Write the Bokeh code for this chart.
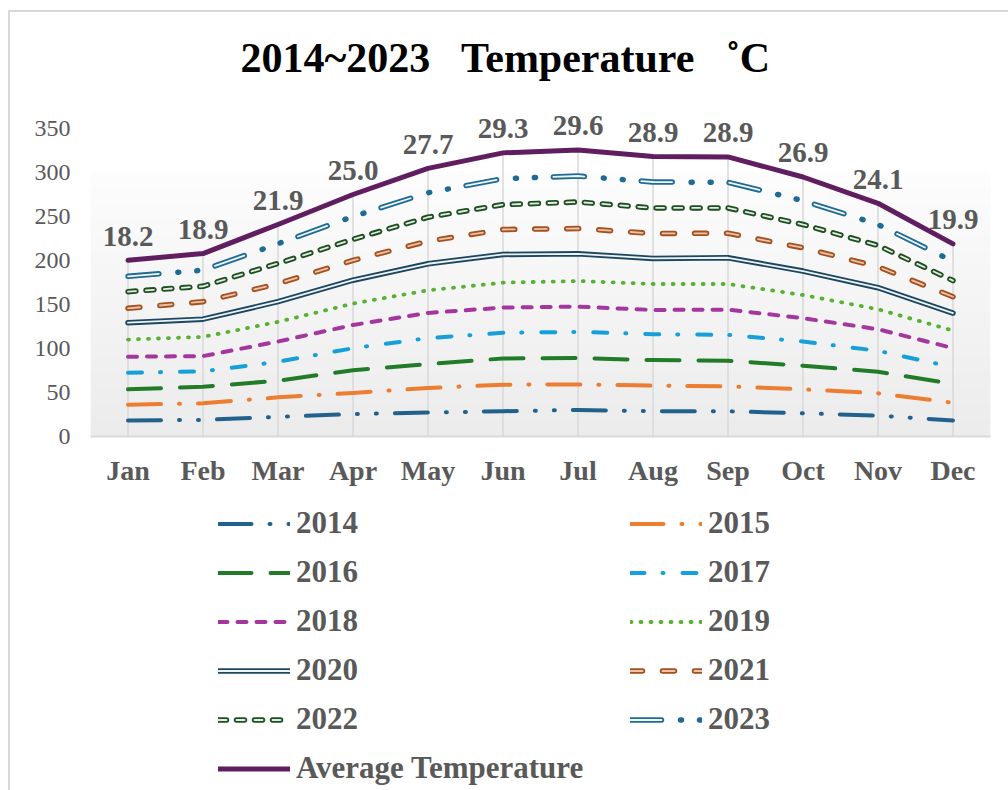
import numpy as np
from bokeh.plotting import figure
from bokeh.layouts import column
from bokeh.models import Range1d, FixedTicker, Legend, LegendItem
from bokeh.embed import file_html
from bokeh.resources import INLINE
from bokeh.core.properties import value

# ---------------- data ----------------
months = ["Jan", "Feb", "Mar", "Apr", "May", "Jun",
          "Jul", "Aug", "Sep", "Oct", "Nov", "Dec"]
y_ticks = [0, 50, 100, 150, 200, 250, 300, 350]

t2014 = [18.1, 18.9, 22.3, 25.5, 27.2, 28.7, 30.2, 28.7, 28.7, 26.4, 23.8, 18.2]
t2015 = [18.0, 18.8, 22.2, 24.0, 27.9, 30.2, 29.0, 29.1, 28.3, 27.2, 25.3, 20.1]
t2016 = [17.5, 18.9, 18.9, 25.8, 27.2, 29.8, 29.9, 29.0, 29.1, 26.8, 24.5, 21.4]
t2017 = [18.9, 17.4, 21.5, 25.0, 29.5, 29.1, 29.8, 29.5, 29.4, 27.5, 23.8, 19.0]
t2018 = [18.1, 17.4, 23.0, 26.4, 28.6, 28.7, 28.7, 27.5, 28.7, 26.5, 24.5, 21.8]
t2019 = [19.5, 21.8, 22.3, 24.3, 25.7, 28.3, 29.1, 29.5, 29.1, 26.4, 22.7, 19.8]
t2020 = [19.3, 20.1, 23.0, 26.6, 30.2, 32.1, 30.9, 29.1, 29.8, 27.2, 24.5, 20.0]
t2021 = [16.3, 19.9, 20.4, 22.5, 25.7, 28.3, 28.8, 28.3, 27.9, 26.4, 23.8, 18.5]
t2022 = [18.9, 17.5, 23.1, 24.0, 27.2, 28.3, 30.1, 29.0, 28.7, 26.5, 24.2, 18.4]
t2023 = [17.4, 18.3, 22.3, 25.9, 27.8, 29.5, 29.5, 29.5, 29.1, 27.1, 23.8, 21.8]
avg_temp = [18.2, 18.9, 21.9, 25.0, 27.7, 29.3, 29.6, 28.9, 28.9, 26.9, 24.1, 19.9]

series_names = ["2014", "2015", "2016", "2017", "2018", "2019",
                "2020", "2021", "2022", "2023", "Average Temperature"]
series_values = [t2014, t2015, t2016, t2017, t2018, t2019,
                 t2020, t2021, t2022, t2023, avg_temp]

# ---------------- styles ----------------
# (color, width, dash, inner_color, inner_width, inner_dash)
styles = [
    ("#21618C", 4, "33 18 1 18 1 18", None, None, None),
    ("#ED7D31", 4, "33 18 1 18", None, None, None),
    ("#227B28", 4, "33 19", None, None, None),
    ("#15A0DB", 4, "14 18 1 19", None, None, None),
    ("#A4379E", 4, "9 10", None, None, None),
    ("#59B134", 3.8, "1 9", None, None, None),
    ("#1D4761", 5.5, "solid", "#EEF3F6", 1.8, "solid"),
    ("#A4501F", 5.5, "12 20", "#EBC3AA", 1.8, "12 20"),
    ("#1F4E22", 5.5, "8 10", "#E4ECE4", 1.8, "8 10"),
    ("#1F6B94", 5.5, "31 19 1 18 1 18", "#F0F6FA", 1.8, "31 57"),
    ("#601D5F", 5, "solid", None, None, None),
]

FONT = "Liberation Serif"
GRAY = "#595959"

x = np.arange(len(months))
cum = np.cumsum(np.array(series_values, dtype=float), axis=0)

# ---------------- chart ----------------
p = figure(width=998, height=484,
           x_range=Range1d(-0.5, 11.5), y_range=Range1d(0, 400),
           output_backend="svg", toolbar_location=None,
           min_border_left=80, min_border_right=18,
           min_border_top=72, min_border_bottom=60)
p.background_fill_color = "white"
p.border_fill_color = "white"
p.outline_line_color = None
p.xgrid.visible = False
p.ygrid.visible = False

# plot-area gradient background
n = 80
tt = np.linspace(0, 1, n)
bot = np.array([236, 236, 236], dtype=float)
top = np.array([253, 253, 253], dtype=float)
img = np.zeros((n, 1), dtype=np.uint32)
view = img.view(dtype=np.uint8).reshape((n, 1, 4))
for i in range(n):
    c = bot + (top - bot) * tt[i]
    view[i, 0, 0] = int(c[0]); view[i, 0, 1] = int(c[1]); view[i, 0, 2] = int(c[2]); view[i, 0, 3] = 255
p.image_rgba(image=[img], x=-0.5, y=0, dw=12, dh=300)

# drop lines
p.segment(x0=x, y0=np.zeros(len(x)), x1=x, y1=cum[-1], line_color="#D9D9D9", line_width=1.5)

for i, name in enumerate(series_names):
    col, w, dash, icol, iw, idash = styles[i]
    p.line(x, cum[i], line_color=col, line_width=w, line_dash=dash, line_cap="round", line_join="round")
    if icol is not None:
        p.line(x, cum[i], line_color=icol, line_width=iw, line_dash=idash, line_cap="round", line_join="round")

# data labels for average
p.text(x=x, y=cum[-1], text=[f"{v:.1f}" for v in avg_temp],
       text_font=value(FONT), text_font_style="bold", text_font_size="29px",
       text_color=GRAY, text_align="center", text_baseline="alphabetic", y_offset=-24)

# axes
p.xaxis.ticker = FixedTicker(ticks=list(range(len(months))))
p.xaxis.major_label_overrides = {i: m for i, m in enumerate(months)}
p.xaxis.major_label_text_font = FONT
p.xaxis.major_label_text_font_style = "bold"
p.xaxis.major_label_text_font_size = "28px"
p.xaxis.major_label_text_color = GRAY
p.xaxis.axis_line_color = "#D9D9D9"
p.xaxis.axis_line_width = 2
p.xaxis.major_tick_line_color = None
p.xaxis.minor_tick_line_color = None
p.xaxis.major_tick_out = 0
p.xaxis.major_label_standoff = 18

p.yaxis.ticker = FixedTicker(ticks=y_ticks)
p.yaxis.major_label_text_font = FONT
p.yaxis.major_label_text_font_size = "24px"
p.yaxis.major_label_text_color = GRAY
p.yaxis.axis_line_color = None
p.yaxis.major_tick_line_color = None
p.yaxis.minor_tick_line_color = None
p.yaxis.major_tick_out = 0
p.yaxis.major_label_standoff = 20

# title
p.title.text = "2014~2023\u00a0\u00a0 Temperature\u00a0\u00a0 ˚C"
p.title.text_font = FONT
p.title.text_font_style = "bold"
p.title.text_font_size = "42px"
p.title.text_color = "black"
p.title.align = "left"
p.title.offset = 150
p.title.standoff = 8

# ---------------- legend panel ----------------
# same series drawn outside this panel's visible range: only their legend swatches show
pl = figure(width=998, height=294, x_range=Range1d(-0.5, 11.5), y_range=Range1d(-20, -10),
            output_backend="svg", toolbar_location=None,
            x_axis_type=None, y_axis_type=None, min_border=0)
pl.outline_line_color = None
pl.xgrid.visible = False
pl.ygrid.visible = False
pl.background_fill_color = "white"
pl.border_fill_color = "white"

items = []
for i, name in enumerate(series_names):
    col, w, dash, icol, iw, idash = styles[i]
    rs = [pl.line(x, cum[i], line_color=col, line_width=w, line_dash=dash, line_cap="round", line_join="round")]
    if icol is not None:
        rs.append(pl.line(x, cum[i], line_color=icol, line_width=iw, line_dash=idash, line_cap="round", line_join="round"))
    items.append(LegendItem(label=name, renderers=rs))

legend = Legend(items=items, location=(128, -0.5), orientation="horizontal", ncols=2,
                glyph_width=72, glyph_height=45, label_height=45, label_width=330,
                label_standoff=6, spacing=4, padding=0, margin=0,
                border_line_color=None, background_fill_alpha=0,
                label_text_font=FONT, label_text_font_size="31px",
                label_text_font_style="bold", label_text_color=GRAY)
pl.add_layout(legend, "center")

layout = column(p, pl, spacing=0,
                styles={"margin-left": "8px", "margin-top": "10px",
                        "border-left": "2px solid #D9D9D9", "border-top": "2px solid #D9D9D9"})

open("out.html", "w").write(file_html(layout, INLINE))
